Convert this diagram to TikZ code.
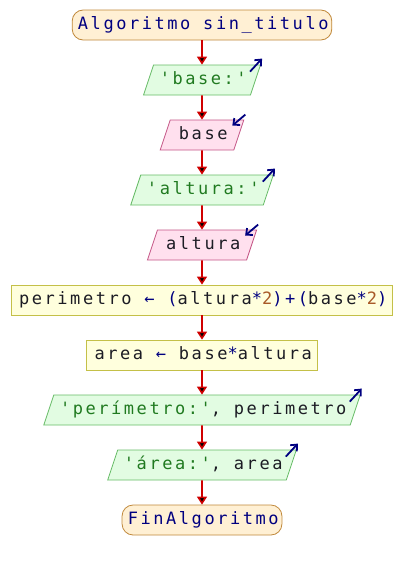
\documentclass[tikz,border=0pt]{standalone}
\usepackage{fontspec}
\usepackage{tikz}
\usetikzlibrary{shapes.geometric,arrows.meta}
\newfontfamily\mono[LetterSpace=15,Ligatures=TeXOff]{DejaVu Sans Mono}

\definecolor{terminofondo}{HTML}{FFF0D4}
\definecolor{terminoborde}{HTML}{C0883A}
\definecolor{salidafondo}{HTML}{E2FCE2}
\definecolor{salidaborde}{HTML}{66BB66}
\definecolor{entradafondo}{HTML}{FFE0EE}
\definecolor{entradaborde}{HTML}{C45586}
\definecolor{procesofondo}{HTML}{FFFFDD}
\definecolor{procesoborde}{HTML}{C4C048}
\definecolor{flecharoja}{HTML}{D00000}
\definecolor{azul}{HTML}{000080}
\definecolor{verde}{HTML}{207A20}
\definecolor{marron}{HTML}{A85A28}
\definecolor{texto}{HTML}{1C1C24}

\newcommand{\cad}[1]{\textcolor{verde}{#1}}
\newcommand{\op}[1]{\textcolor{azul}{#1}}
\newcommand{\numero}[1]{\textcolor{marron}{#1}}

\tikzset{
  caja/.style={font=\mono\fontsize{17}{20}\selectfont, text=texto,
    text height=13pt, text depth=4pt, inner ysep=6.5pt, line width=0.8pt,
    execute at end node={\kern-2.5pt}},
  termino/.style={caja, shape=rectangle, rounded corners=11pt, inner xsep=5.75pt,
    draw=terminoborde, fill=terminofondo},
  proceso/.style={caja, shape=rectangle, inner xsep=7.75pt,
    draw=procesoborde, fill=procesofondo},
  paralelo/.style={caja, shape=trapezium, trapezium left angle=71.57,
    trapezium right angle=108.43, inner xsep=8.75pt},
  salida/.style={paralelo, inner xsep=6.25pt, draw=salidaborde, fill=salidafondo},
  entrada/.style={paralelo, draw=entradaborde, fill=entradafondo},
  flecha/.style={-{Triangle[length=8pt,width=10pt]}, line width=1.6pt, draw=flecharoja},
  esquina/.style={-{Straight Barb[length=5pt,width=9pt]}, line width=1.8pt, draw=azul},
}

\begin{document}
\begin{tikzpicture}[x=1pt, y=-1pt]

	\useasboundingbox (0,0) rectangle (404,570);

	\node[termino] (inicio) at (202, 25)  {\op{Algoritmo sin\_titulo}};
	\node[salida]  (msg1)   at (202, 80)  {\cad{'base:'}};
	\node[entrada] (leer1)  at (202, 135) {base};
	\node[salida]  (msg2)   at (202, 190) {\cad{'altura:'}};
	\node[entrada] (leer2)  at (202, 245) {altura};
	\node[proceso] (calc1)  at (202, 300) {perimetro \op{←} \op{(}altura\op{*}\numero{2}\op{)+(}base\op{*}\numero{2}\op{)}};
	\node[proceso] (calc2)  at (202, 355) {area \op{←} base\op{*}altura};
	\node[salida]  (msg3)   at (202, 410) {\cad{'perímetro:'}, perimetro};
	\node[salida]  (msg4)   at (202, 465) {\cad{'área:'}, area};
	\node[termino] (fin)    at (202, 520) {\op{FinAlgoritmo}};

	\path[flecha] (inicio) edge (msg1);
	\path[flecha] (msg1) edge (leer1);
	\path[flecha] (leer1) edge (msg2);
	\path[flecha] (msg2) edge (leer2);
	\path[flecha] (leer2) edge (calc1);
	\path[flecha] (calc1) edge (calc2);
	\path[flecha] (calc2) edge (msg3);
	\path[flecha] (msg3) edge (msg4);
	\path[flecha] (msg4) edge (fin);

	% escribir: flecha hacia fuera, leer: flecha hacia dentro
	\foreach \n in {msg1, msg2, msg3, msg4}
		\draw[esquina] ([shift={(-11,7)}]\n.top right corner) -- ([shift={(1,-6)}]\n.top right corner);
	\foreach \n in {leer1, leer2}
		\draw[esquina] ([shift={(1,-5)}]\n.top right corner) -- ([shift={(-12,6)}]\n.top right corner);

\end{tikzpicture}
\end{document}
